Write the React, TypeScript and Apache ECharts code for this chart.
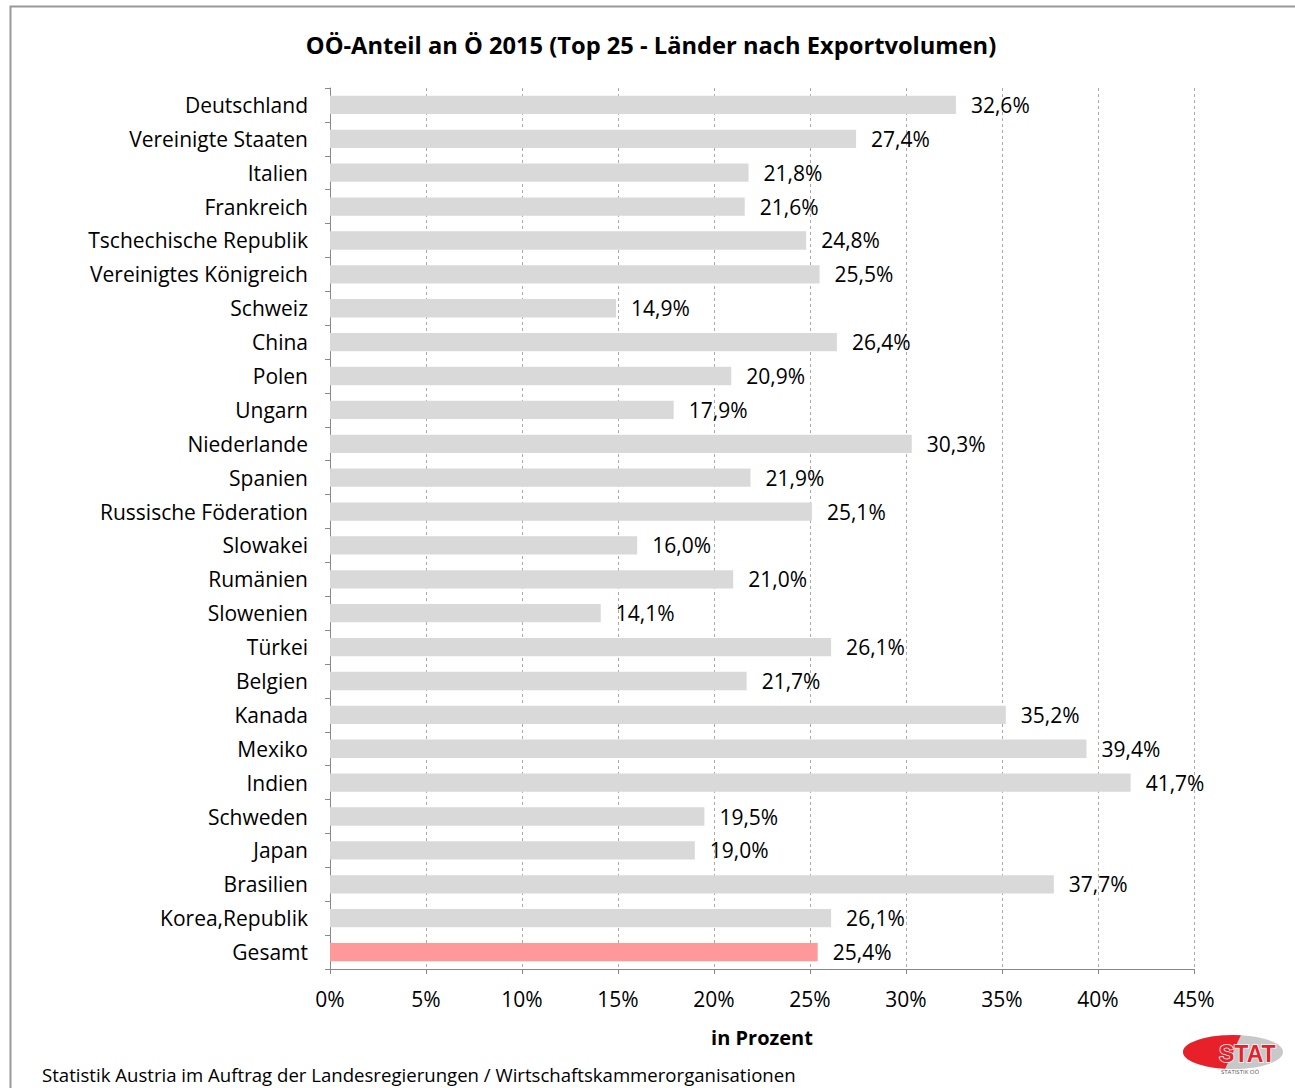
import React, { useEffect, useRef } from "react";
import * as echarts from "echarts";

const countries = [
  "Deutschland", "Vereinigte Staaten", "Italien", "Frankreich", "Tschechische Republik",
  "Vereinigtes Königreich", "Schweiz", "China", "Polen", "Ungarn", "Niederlande", "Spanien",
  "Russische Föderation", "Slowakei", "Rumänien", "Slowenien", "Türkei", "Belgien", "Kanada",
  "Mexiko", "Indien", "Schweden", "Japan", "Brasilien", "Korea,Republik", "Gesamt",
];
const shares = [
  32.6, 27.4, 21.8, 21.6, 24.8, 25.5, 14.9, 26.4, 20.9, 17.9, 30.3, 21.9, 25.1, 16.0, 21.0,
  14.1, 26.1, 21.7, 35.2, 39.4, 41.7, 19.5, 19.0, 37.7, 26.1, 25.4,
];
const highlight = "Gesamt";
const titleText = "OÖ-Anteil an Ö 2015 (Top 25 - Länder nach Exportvolumen)";
const xAxisName = "in Prozent";
const sourceText = "Statistik Austria im Auftrag der Landesregierungen / Wirtschaftskammerorganisationen";

const FONT = "'Open Sans', 'Noto Sans', sans-serif";

export default function App() {
  const ref = useRef<HTMLDivElement>(null);
  useEffect(() => {
    if (!ref.current) return;
    const chart = echarts.init(ref.current, null, { renderer: "svg" });
    chart.setOption({
      animation: false,
      backgroundColor: "#ffffff",
      textStyle: { fontFamily: FONT },
      title: {
        text: titleText,
        left: 646,
        textAlign: "center",
        top: 28,
        textStyle: { fontFamily: FONT, fontSize: 23.7, fontWeight: "bold", color: "#000" },
      },
      grid: { left: 330, right: 101, top: 88, bottom: 119 },
      xAxis: {
        type: "value",
        min: 0,
        max: 45,
        interval: 5,
        axisLine: { show: true, lineStyle: { color: "#888", width: 1 } },
        axisTick: { show: true, length: 5, lineStyle: { color: "#888" } },
        axisLabel: {
          formatter: (v: number) => v + "%",
          fontSize: 21,
          color: "#000",
          margin: 19,
          fontFamily: FONT,
        },
        splitLine: { show: true, lineStyle: { color: "#aaa", type: [3, 3], width: 1 } },
        name: xAxisName,
        nameLocation: "middle",
        nameGap: 58,
        nameTextStyle: { fontSize: 20, fontWeight: "bold", color: "#000", fontFamily: FONT },
      },
      yAxis: {
        type: "category",
        data: countries,
        inverse: true,
        axisLine: { show: true, lineStyle: { color: "#888", width: 1 } },
        axisTick: { show: true, length: 5, lineStyle: { color: "#888" } },
        axisLabel: { fontSize: 21, color: "#000", margin: 22, fontFamily: FONT },
        splitLine: { show: false },
      },
      series: [
        {
          type: "bar",
          data: countries.map((c, i) => ({
            value: shares[i],
            itemStyle: { color: c === highlight ? "#ff9999" : "#d9d9d9" },
          })),
          barCategoryGap: "46%",
          label: {
            show: true,
            position: "right",
            distance: 15,
            fontSize: 21,
            color: "#000",
            fontFamily: FONT,
            formatter: (p: any) => p.value.toFixed(1).replace(".", ",") + "%",
          },
        },
      ],
      graphic: [
        {
          type: "rect",
          shape: { x: 10.5, y: 6.5, width: 1400, height: 1200 },
          style: { fill: "none", stroke: "#999", lineWidth: 2 },
          silent: true,
        },
        {
          type: "text",
          x: 42,
          y: 1065,
          style: { text: sourceText, fontSize: 18.6, fill: "#000", fontFamily: FONT },
        },
        {
          type: "group",
          x: 1183,
          y: 1032,
          children: [
            { type: "ellipse", shape: { cx: 50, cy: 20, rx: 50, ry: 17 }, style: { fill: "#c8c8c8" } },
            { type: "sector", shape: { cx: 50, cy: 20, r: 50, r0: 0, startAngle: Math.PI * 0.55, endAngle: Math.PI * 1.55 }, style: { fill: "#e8202a" }, scaleY: 0.34, originY: 20, originX: 50 },
            { type: "text", x: 36, y: 10, style: { text: "STAT", fontSize: 23, fontWeight: "bold", fill: "#e8202a", fontFamily: "'Liberation Sans', Arial, sans-serif", stroke: "#fff", lineWidth: 1.5 } },
            { type: "text", x: 38, y: 37, style: { text: "STATISTIK OÖ", fontSize: 6, fill: "#555", fontFamily: FONT } },
          ],
        },
      ],
    });
    return () => chart.dispose();
  }, []);
  return (
    <div
      ref={ref}
      style={{ position: "absolute", left: 0, top: 0, width: 1295, height: 1088 }}
    />
  );
}
